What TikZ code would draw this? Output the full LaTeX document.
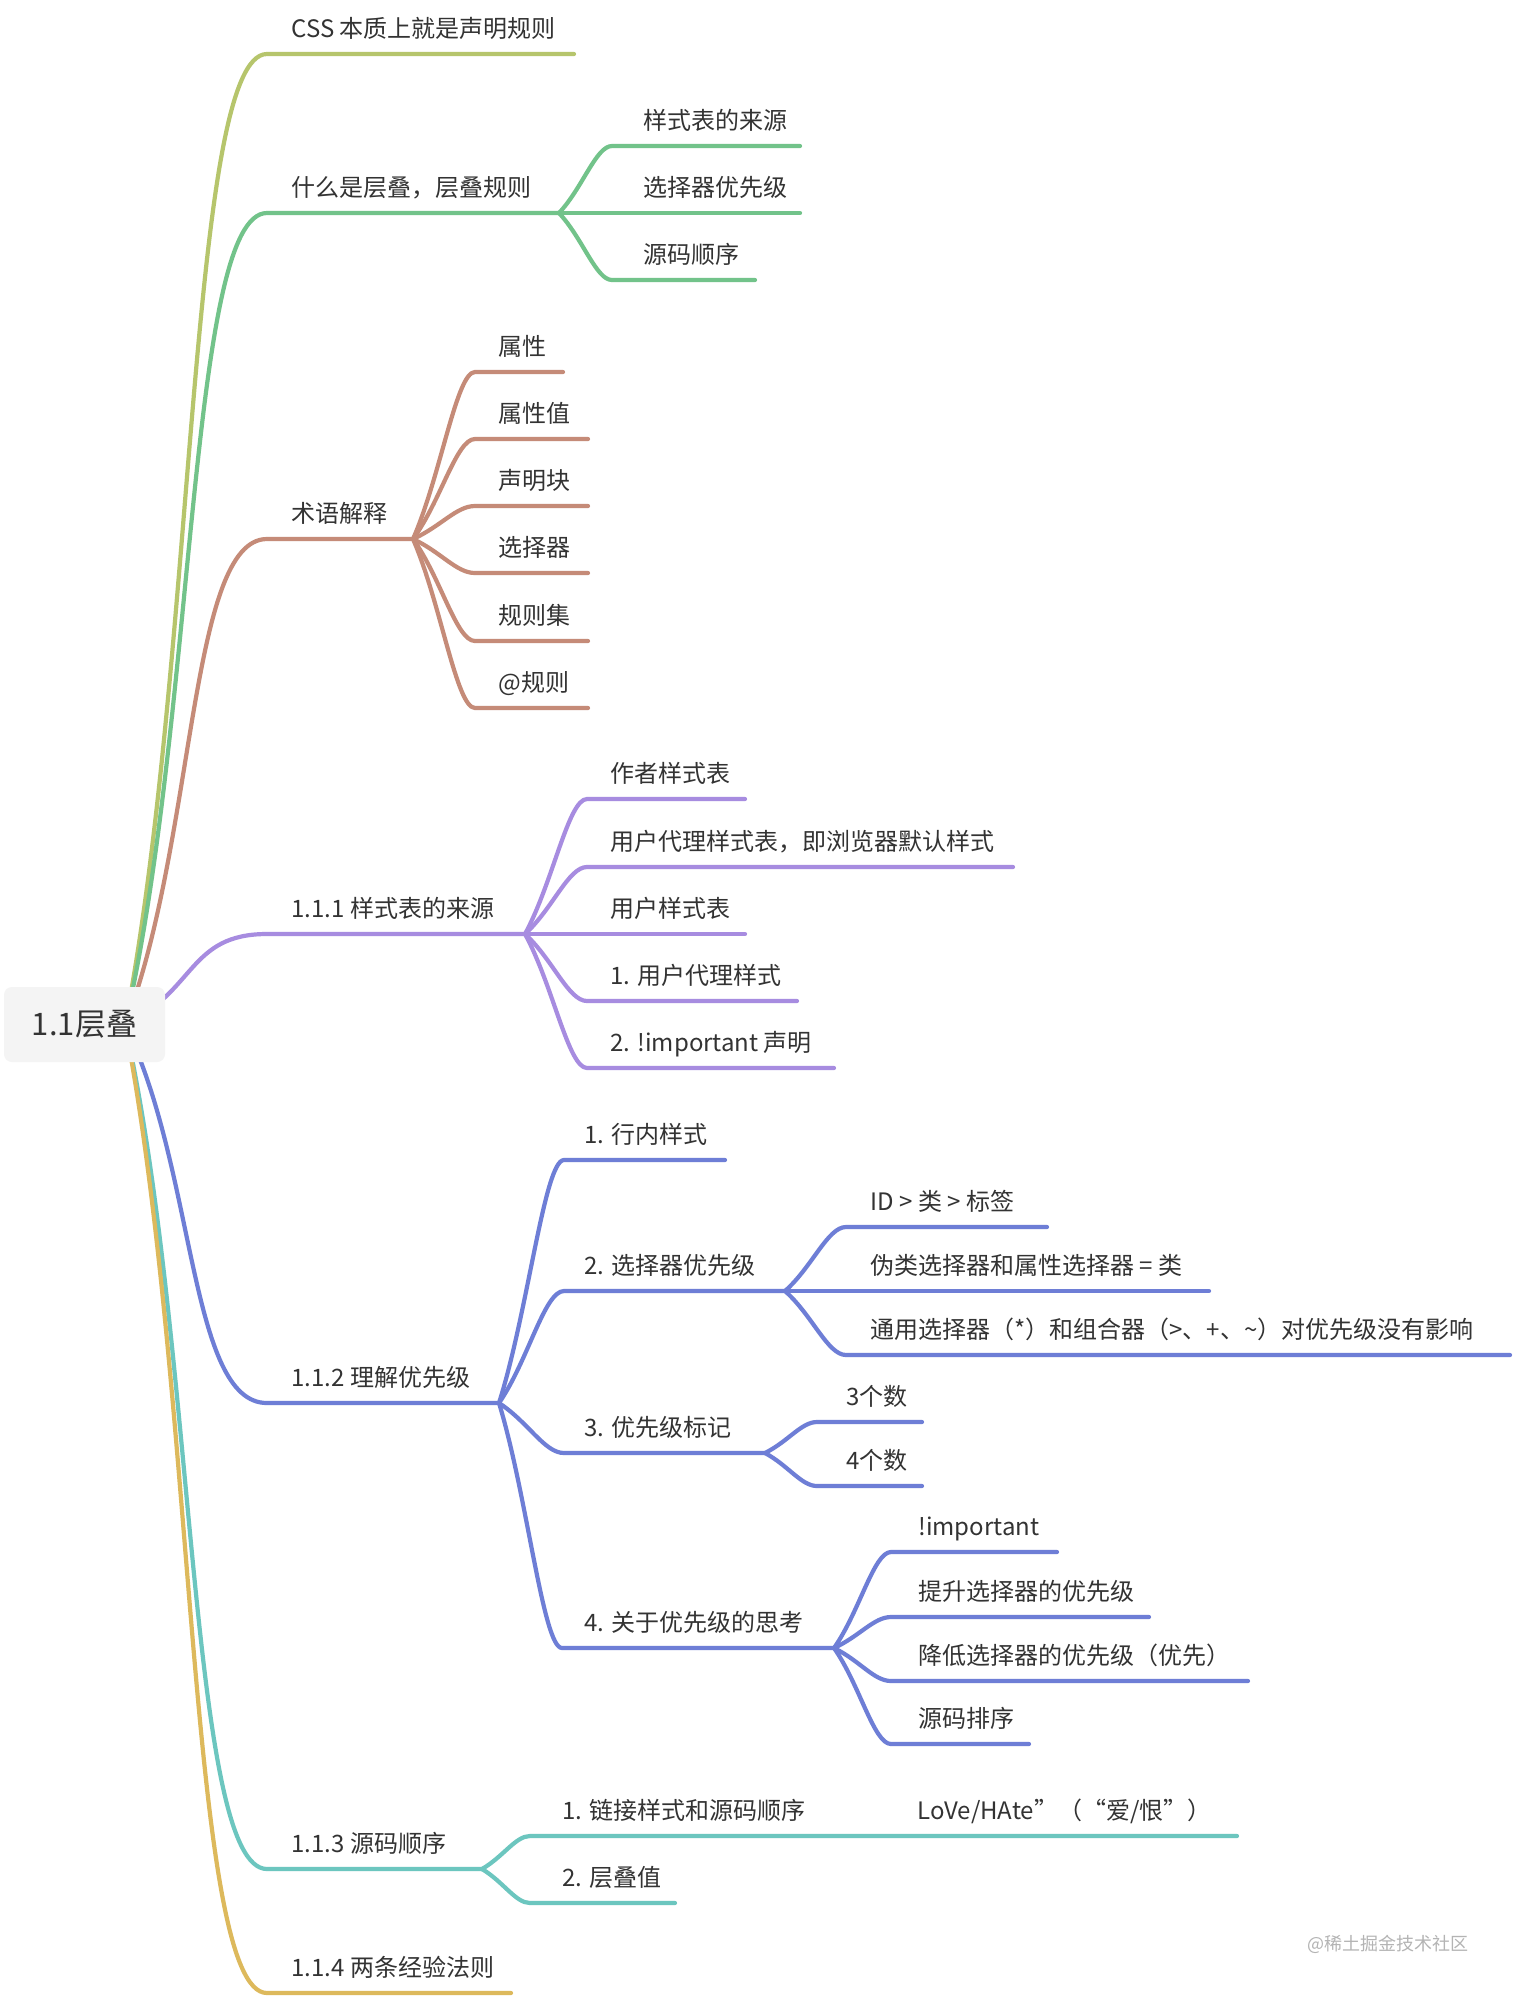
\documentclass[tikz,border=0pt]{standalone}
\usepackage{fontspec}
\setmainfont{Noto Sans CJK SC}
\usetikzlibrary{calc}
\definecolor{cyg}{HTML}{B6C56C}
\definecolor{cgr}{HTML}{72C38A}
\definecolor{cbr}{HTML}{C58B78}
\definecolor{cpu}{HTML}{A78CE0}
\definecolor{cbl}{HTML}{6E7ED6}
\definecolor{cte}{HTML}{6CC6BF}
\definecolor{cgo}{HTML}{DDB95C}
\definecolor{txt}{HTML}{333333}
\definecolor{rootbg}{HTML}{F4F4F4}
\definecolor{wm}{HTML}{B4B4B4}
\newcommand\rootbr[4]{\draw[br,#1] let \p1=(#2), \p2=(#3) in (\p1) .. controls ({\x1+0.5*(\x2-\x1)},{\y1+0.38*(\y2-\y1)}) and ({\x2-0.55*(\x2-\x1)},\y2) .. (\p2) -- (#4);}
\newcommand\kidbr[4]{\draw[br,#1] let \p1=(#2), \p2=(#3) in (\p1) .. controls ({\x1+0.45*(\x2-\x1)},{\y1+0.38*(\y2-\y1)}) and ({\x2-0.3*(\x2-\x1)},\y2) .. (\p2) -- (#4);}
\begin{document}
\begin{tikzpicture}[x=0.5pt,y=-0.5pt,
  br/.style={line width=2.1pt, line cap=round, line join=round},
  lab/.style={anchor=base west, inner sep=0pt, text=txt, font=\fontsize{12}{14}\selectfont},
  wmark/.style={anchor=base west, inner sep=0pt, text=wm, font=\fontsize{9}{11}\selectfont},
  rootbox/.style={fill=rootbg, rounded corners=4pt, inner sep=0pt, minimum width=80.5pt, minimum height=37.5pt, text=txt, font=\fontsize{15.5}{18}\selectfont}]
\fill[white] (0,0) rectangle (1512,1999);
\useasboundingbox (0,0) rectangle (1512,1999);
% ---------- coordinates ----------
\coordinate (R) at (125,1025);
\coordinate (a1s) at (267,54);   \coordinate (a1e) at (574,54);
\coordinate (a2s) at (267,213);  \coordinate (a2f) at (559,213);
\coordinate (a3s) at (267,539);  \coordinate (a3f) at (413,539);
\coordinate (a4s) at (267,934);  \coordinate (a4f) at (525,934);
\coordinate (a5s) at (267,1403); \coordinate (a5f) at (499,1403);
\coordinate (a6s) at (267,1869); \coordinate (a6f) at (482,1869);
\coordinate (a7s) at (267,1993); \coordinate (a7e) at (511,1993);
% children of a2
\coordinate (b1s) at (612,146); \coordinate (b1e) at (800,146);
\coordinate (b2e) at (800,213);
\coordinate (b3s) at (612,280); \coordinate (b3e) at (755,280);
% children of a3
\coordinate (c1s) at (475,372); \coordinate (c1e) at (563,372);
\coordinate (c2s) at (475,439); \coordinate (c2e) at (588,439);
\coordinate (c3s) at (475,506); \coordinate (c3e) at (588,506);
\coordinate (c4s) at (475,573); \coordinate (c4e) at (588,573);
\coordinate (c5s) at (475,641); \coordinate (c5e) at (588,641);
\coordinate (c6s) at (475,708); \coordinate (c6e) at (588,708);
% children of a4
\coordinate (d1s) at (587,799);  \coordinate (d1e) at (745,799);
\coordinate (d2s) at (587,867);  \coordinate (d2e) at (1013,867);
\coordinate (d3e) at (745,934);
\coordinate (d4s) at (587,1001); \coordinate (d4e) at (797,1001);
\coordinate (d5s) at (587,1068); \coordinate (d5e) at (834,1068);
% children of a5
\coordinate (e1s) at (564,1160); \coordinate (e1e) at (725,1160);
\coordinate (e2s) at (564,1291); \coordinate (e2f) at (785,1291);
\coordinate (e3s) at (564,1453); \coordinate (e3f) at (765,1453);
\coordinate (e4s) at (562,1648); \coordinate (e4f) at (834,1648);
\coordinate (f1s) at (846,1227); \coordinate (f1e) at (1047,1227);
\coordinate (f2e) at (1209,1291);
\coordinate (f3s) at (846,1355); \coordinate (f3e) at (1510,1355);
\coordinate (g1s) at (817,1422); \coordinate (g1e) at (922,1422);
\coordinate (g2s) at (817,1486); \coordinate (g2e) at (922,1486);
\coordinate (h1s) at (891,1552); \coordinate (h1e) at (1057,1552);
\coordinate (h2s) at (891,1617); \coordinate (h2e) at (1149,1617);
\coordinate (h3s) at (891,1681); \coordinate (h3e) at (1248,1681);
\coordinate (h4s) at (891,1744); \coordinate (h4e) at (1029,1744);
% children of a6
\coordinate (i1s) at (530,1836); \coordinate (i1e) at (1237,1836);
\coordinate (i2s) at (530,1903); \coordinate (i2e) at (675,1903);
% ---------- branches ----------
\rootbr{cyg}{R}{a1s}{a1e}
\rootbr{cgr}{R}{a2s}{a2f}
\rootbr{cbr}{R}{a3s}{a3f}
\rootbr{cpu}{R}{a4s}{a4f}
\rootbr{cbl}{R}{a5s}{a5f}
\rootbr{cte}{R}{a6s}{a6f}
\rootbr{cgo}{R}{a7s}{a7e}
\kidbr{cgr}{a2f}{b1s}{b1e}
\draw[br,cgr] (a2f) -- (b2e);
\kidbr{cgr}{a2f}{b3s}{b3e}
\kidbr{cbr}{a3f}{c1s}{c1e}
\kidbr{cbr}{a3f}{c2s}{c2e}
\kidbr{cbr}{a3f}{c3s}{c3e}
\kidbr{cbr}{a3f}{c4s}{c4e}
\kidbr{cbr}{a3f}{c5s}{c5e}
\kidbr{cbr}{a3f}{c6s}{c6e}
\kidbr{cpu}{a4f}{d1s}{d1e}
\kidbr{cpu}{a4f}{d2s}{d2e}
\draw[br,cpu] (a4f) -- (d3e);
\kidbr{cpu}{a4f}{d4s}{d4e}
\kidbr{cpu}{a4f}{d5s}{d5e}
\kidbr{cbl}{a5f}{e1s}{e1e}
\kidbr{cbl}{a5f}{e2s}{e2f}
\kidbr{cbl}{a5f}{e3s}{e3f}
\kidbr{cbl}{a5f}{e4s}{e4f}
\kidbr{cbl}{e2f}{f1s}{f1e}
\draw[br,cbl] (e2f) -- (f2e);
\kidbr{cbl}{e2f}{f3s}{f3e}
\kidbr{cbl}{e3f}{g1s}{g1e}
\kidbr{cbl}{e3f}{g2s}{g2e}
\kidbr{cbl}{e4f}{h1s}{h1e}
\kidbr{cbl}{e4f}{h2s}{h2e}
\kidbr{cbl}{e4f}{h3s}{h3e}
\kidbr{cbl}{e4f}{h4s}{h4e}
\kidbr{cte}{a6f}{i1s}{i1e}
\kidbr{cte}{a6f}{i2s}{i2e}
% ---------- root ----------
\node[rootbox] (root) at (84.5,1024.5) {1.1层叠};
% ---------- labels ----------
\node[lab] (t1) at (291,37) {CSS 本质上就是声明规则};
\node[lab] (t2) at (291,196) {什么是层叠，层叠规则};
\node[lab] (t2a) at (643,129) {样式表的来源};
\node[lab] (t2b) at (643,196) {选择器优先级};
\node[lab] (t2c) at (643,263) {源码顺序};
\node[lab] (t3) at (291,522) {术语解释};
\node[lab] (t3a) at (498,355) {属性};
\node[lab] (t3b) at (498,422) {属性值};
\node[lab] (t3c) at (498,489) {声明块};
\node[lab] (t3d) at (498,556) {选择器};
\node[lab] (t3e) at (498,624) {规则集};
\node[lab] (t3f) at (498,691) {@规则};
\node[lab] (t4) at (291,917) {1.1.1 样式表的来源};
\node[lab] (t4a) at (610,782) {作者样式表};
\node[lab] (t4b) at (610,850) {用户代理样式表，即浏览器默认样式};
\node[lab] (t4c) at (610,917) {用户样式表};
\node[lab] (t4d) at (610,984) {1. 用户代理样式};
\node[lab] (t4e) at (610,1051) {2. !important 声明};
\node[lab] (t5) at (291,1386) {1.1.2 理解优先级};
\node[lab] (t5a) at (584,1143) {1. 行内样式};
\node[lab] (t5b) at (584,1274) {2. 选择器优先级};
\node[lab] (t5c) at (584,1436) {3. 优先级标记};
\node[lab] (t5d) at (584,1631) {4. 关于优先级的思考};
\node[lab] (t5b1) at (870,1210) {ID > 类 > 标签};
\node[lab] (t5b2) at (870,1274) {伪类选择器和属性选择器 = 类};
\node[lab] (t5b3) at (870,1338) {通用选择器（*）和组合器（>、+、\textasciitilde）对优先级没有影响};
\node[lab] (t5c1) at (846,1405) {3个数};
\node[lab] (t5c2) at (846,1469) {4个数};
\node[lab] (t5d1) at (918,1535) {!important};
\node[lab] (t5d2) at (918,1600) {提升选择器的优先级};
\node[lab] (t5d3) at (918,1664) {降低选择器的优先级（优先）};
\node[lab] (t5d4) at (918,1727) {源码排序};
\node[lab] (t6) at (291,1852) {1.1.3 源码顺序};
\node[lab] (t6a) at (562,1819) {1. 链接样式和源码顺序\hspace{56pt}LoVe/HAte”（“爱/恨”）};
\node[lab] (t6b) at (562,1886) {2. 层叠值};
\node[lab] (t7) at (291,1976) {1.1.4 两条经验法则};
\node[wmark] (wmk) at (1307,1950) {@稀土掘金技术社区};
\end{tikzpicture}
\end{document}
